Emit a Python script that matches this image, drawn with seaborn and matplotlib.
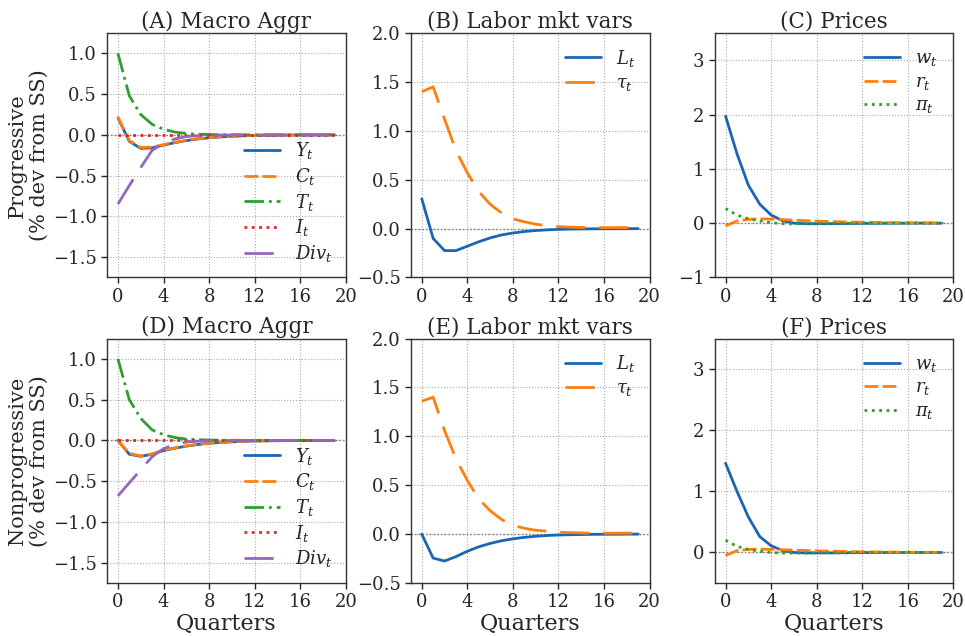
import matplotlib
matplotlib.use("Agg")
import matplotlib.pyplot as plt
import numpy as np
import pandas as pd
import seaborn as sns

quarters = list(range(20))

# Panel A (Progressive) - Macro aggregates
prog_Y = [0.21, -0.08, -0.165, -0.16, -0.125, -0.095, -0.07, -0.05, -0.035, -0.025,
          -0.017, -0.011, -0.007, -0.005, -0.003, -0.002, -0.001, -0.001, 0.0, 0.0]
prog_C = [0.22, -0.07, -0.155, -0.15, -0.12, -0.09, -0.066, -0.047, -0.033, -0.023,
          -0.016, -0.010, -0.007, -0.004, -0.003, -0.002, -0.001, -0.001, 0.0, 0.0]
prog_T = [1.0, 0.48, 0.25, 0.13, 0.07, 0.035, 0.018, 0.01, 0.005, 0.003,
          0.002, 0.001, 0.0, 0.0, 0.0, 0.0, 0.0, 0.0, 0.0, 0.0]
prog_I = [0.0] * 20
prog_Div = [-0.85, -0.62, -0.40, -0.19, -0.10, -0.05, -0.02, -0.01, -0.005, -0.002,
            -0.001, 0.0, 0.0, 0.0, 0.0, 0.0, 0.0, 0.0, 0.0, 0.0]

# Panel B (Progressive) - Labor market
prog_L = [0.305, -0.10, -0.225, -0.225, -0.18, -0.135, -0.095, -0.065, -0.045, -0.03,
          -0.02, -0.013, -0.008, -0.005, -0.003, -0.002, -0.001, -0.001, 0.0, 0.0]
prog_tau = [1.40, 1.45, 1.12, 0.80, 0.57, 0.38, 0.25, 0.16, 0.10, 0.07,
            0.045, 0.03, 0.02, 0.015, 0.012, 0.01, 0.01, 0.01, 0.01, 0.01]

# Panel C (Progressive) - Prices
prog_w = [1.97, 1.28, 0.70, 0.35, 0.15, 0.045, 0.0, -0.01, -0.01, -0.01,
          -0.008, -0.006, -0.004, -0.003, -0.002, -0.001, -0.001, 0.0, 0.0, 0.0]
prog_r = [-0.05, 0.04, 0.07, 0.08, 0.075, 0.065, 0.055, 0.045, 0.038, 0.031,
          0.025, 0.02, 0.016, 0.013, 0.01, 0.008, 0.006, 0.005, 0.004, 0.003]
prog_pi = [0.27, 0.15, 0.08, 0.04, 0.01, -0.01, -0.012, -0.01, -0.008, -0.005,
           -0.003, -0.002, -0.001, 0.0, 0.0, 0.0, 0.0, 0.0, 0.0, 0.0]

# Panel D (Nonprogressive) - Macro aggregates
nonp_Y = [0.0, -0.17, -0.195, -0.17, -0.125, -0.095, -0.07, -0.05, -0.035, -0.025,
          -0.017, -0.011, -0.007, -0.005, -0.003, -0.002, -0.001, -0.001, 0.0, 0.0]
nonp_C = [0.0, -0.16, -0.19, -0.165, -0.12, -0.09, -0.066, -0.047, -0.033, -0.023,
          -0.016, -0.010, -0.007, -0.004, -0.003, -0.002, -0.001, -0.001, 0.0, 0.0]
nonp_T = [1.0, 0.50, 0.27, 0.13, 0.07, 0.035, 0.017, 0.009, 0.005, 0.003,
          0.002, 0.001, 0.0, 0.0, 0.0, 0.0, 0.0, 0.0, 0.0, 0.0]
nonp_I = [0.0] * 20
nonp_Div = [-0.68, -0.52, -0.36, -0.20, -0.10, -0.05, -0.02, -0.01, -0.005, -0.002,
            -0.001, 0.0, 0.0, 0.0, 0.0, 0.0, 0.0, 0.0, 0.0, 0.0]

# Panel E (Nonprogressive) - Labor market
nonp_L = [0.0, -0.245, -0.275, -0.23, -0.175, -0.13, -0.095, -0.068, -0.048, -0.033,
          -0.022, -0.014, -0.009, -0.006, -0.004, -0.002, -0.001, -0.001, 0.0, 0.0]
nonp_tau = [1.36, 1.40, 1.06, 0.77, 0.55, 0.36, 0.24, 0.15, 0.09, 0.06,
            0.04, 0.03, 0.02, 0.015, 0.012, 0.01, 0.01, 0.01, 0.01, 0.01]

# Panel F (Nonprogressive) - Prices
nonp_w = [1.46, 1.00, 0.58, 0.26, 0.11, 0.03, 0.0, -0.008, -0.008, -0.007,
          -0.006, -0.004, -0.003, -0.002, -0.001, -0.001, 0.0, 0.0, 0.0, 0.0]
nonp_r = [-0.05, 0.03, 0.05, 0.055, 0.05, 0.045, 0.038, 0.032, 0.027, 0.022,
          0.018, 0.014, 0.011, 0.009, 0.007, 0.005, 0.004, 0.003, 0.002, 0.002]
nonp_pi = [0.20, 0.10, 0.05, 0.02, 0.0, -0.01, -0.01, -0.008, -0.006, -0.004,
           -0.002, -0.001, 0.0, 0.0, 0.0, 0.0, 0.0, 0.0, 0.0, 0.0]

panel_titles = ["(A) Macro Aggr", "(B) Labor mkt vars", "(C) Prices",
                "(D) Macro Aggr", "(E) Labor mkt vars", "(F) Prices"]
row_labels = ["Progressive\n(% dev from SS)", "Nonprogressive\n(% dev from SS)"]
x_ticks = [0, 4, 8, 12, 16, 20]

sns.set_style("ticks", {"axes.grid": True, "grid.linestyle": ":",
                        "grid.color": "#a8a8a8", "axes.edgecolor": "#333333"})
plt.rcParams["font.family"] = ["DejaVu Serif"]
plt.rcParams["mathtext.fontset"] = "dejavuserif"
plt.rcParams["grid.linewidth"] = 0.8
plt.rcParams["axes.linewidth"] = 1.0

pal = sns.color_palette("tab10")
blue = "#1966b6"
orange, green, red, purple = pal[1], pal[2], pal[3], pal[4]

LS_SOLID = "-"
LS_DASH = (0, (5, 1.5))
LS_DASHDOT = (0, (7, 1.8, 1, 1.8))
LS_DOT = ":"
LS_LONG = (0, (10.5, 5))

fig, axes = plt.subplots(2, 3, figsize=(9.65, 6.36), dpi=100)
fig.subplots_adjust(left=0.111, right=0.988, top=0.948, bottom=0.0833,
                    wspace=0.273, hspace=0.25)


def draw(ax, series):
    for vals, lab, col, ls in series:
        sns.lineplot(x=quarters, y=vals, ax=ax, color=col, linestyle=ls,
                     linewidth=2, label=lab)


rows = [
    (prog_Y, prog_C, prog_T, prog_I, prog_Div, prog_L, prog_tau, prog_w, prog_r, prog_pi),
    (nonp_Y, nonp_C, nonp_T, nonp_I, nonp_Div, nonp_L, nonp_tau, nonp_w, nonp_r, nonp_pi),
]

for i, (Y, C, T, I, Div, L, tau, w, r, pi) in enumerate(rows):
    axA, axB, axC = axes[i]
    draw(axA, [(Y, r"$Y_t$", blue, LS_SOLID),
               (C, r"$C_t$", orange, LS_DASH),
               (T, r"$T_t$", green, LS_DASHDOT),
               (I, r"$I_t$", red, LS_DOT),
               (Div, r"$Div_t$", purple, LS_LONG)])
    draw(axB, [(L, r"$L_t$", blue, LS_SOLID),
               (tau, r"$\tau_t$", orange, LS_LONG)])
    draw(axC, [(w, r"$w_t$", blue, LS_SOLID),
               (r, r"$r_t$", orange, LS_DASH),
               (pi, r"$\pi_t$", green, LS_DOT)])

    axA.set_ylim(-1.75, 1.25)
    axA.set_yticks([-1.5, -1.0, -0.5, 0.0, 0.5, 1.0])
    axB.set_ylim(-0.5, 2.0)
    axB.set_yticks([-0.5, 0.0, 0.5, 1.0, 1.5, 2.0])
    if i == 0:
        axC.set_ylim(-1, 3.5)
        axC.set_yticks([-1, 0, 1, 2, 3])
    else:
        axC.set_ylim(-0.5, 3.5)
        axC.set_yticks([0, 1, 2, 3])

    axA.set_ylabel(row_labels[i], fontsize=15, labelpad=3)
    axA.legend(loc="lower right", frameon=False, fontsize=13, labelspacing=0.26,
               handlelength=2.0, borderaxespad=0.35)
    axB.legend(loc="upper right", frameon=False, fontsize=13, labelspacing=0.3,
               handlelength=2.0, borderaxespad=0.4)
    axC.legend(loc="upper right", frameon=False, fontsize=13, labelspacing=0.25,
               handlelength=2.0)

    for j, ax in enumerate((axA, axB, axC)):
        ax.axhline(0, color="#777777", linestyle=":", linewidth=1.0, zorder=1)
        ax.set_xlim(-0.95, 19.95)
        ax.set_xticks(x_ticks)
        ax.set_title(panel_titles[i * 3 + j], fontsize=15.5, pad=4)
        ax.tick_params(labelsize=13, length=4, width=1)
        if i == 1:
            ax.set_xlabel("Quarters", fontsize=16, labelpad=1)
        else:
            ax.set_xlabel("")
        if j > 0:
            ax.set_ylabel("")
        for s in ax.spines.values():
            s.set_visible(True)

fig.savefig("out.png", dpi=100)
